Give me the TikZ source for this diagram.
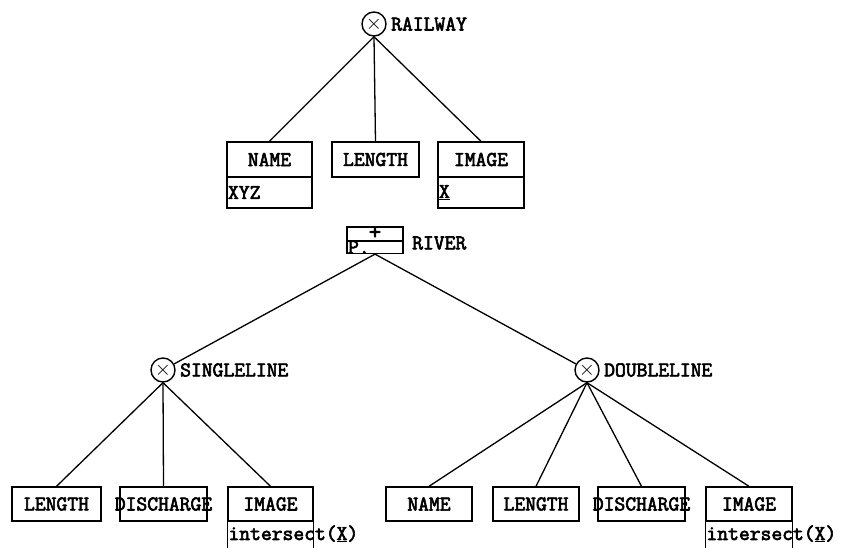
\documentclass[tikz,border=0pt]{standalone}
\usepackage{fontspec}
\setmonofont{Latin Modern Mono}[FakeBold=3]
\begin{document}
\begin{tikzpicture}[x=1pt,y=-1pt,
  every node/.style={font=\ttfamily\fontsize{21}{24}\selectfont, inner sep=0pt},
  link/.style={line width=1.3pt},
  field/.style={draw, line width=1.4pt, minimum height=35pt, anchor=center},
  valuecell/.style={draw, line width=1.4pt, minimum height=31pt, anchor=center},
  opnode/.style={circle, draw, line width=1.4pt, minimum size=24pt,
    font=\fontsize{21}{21}\selectfont},
  tag/.style={anchor=west}]
\useasboundingbox (0,0) rectangle (841,547);
\clip (0,0) rectangle (841,547);
\fill[white] (0,0) rectangle (841,547);

% RAILWAY: product of three fields
\node[opnode] (railway) at (374,24) {$\times$};
\node[tag] (railwaytag) at (391,24) {RAILWAY};
\node[field, minimum width=85pt] (rname) at (269.5,159.5) {NAME};
\node[valuecell, minimum width=85pt] (rnameval) at (269.5,192.5)
  {\makebox[83pt][l]{XYZ}};
\node[field, minimum width=87pt] (rlength) at (375.5,159.5) {LENGTH};
\node[field, minimum width=86pt] (rimage) at (481,159.5) {IMAGE};
\node[valuecell, minimum width=86pt] (rimageval) at (481,192.5)
  {\makebox[84pt][l]{\underline{X}}};
\draw[link] (railway.south) -- (rname.north);
\draw[link] (railway.south) -- (rlength.north);
\draw[link] (railway.south) -- (rimage.north);

% RIVER: sum of two kinds
\node[draw, line width=1.4pt, minimum width=56pt, minimum height=14pt] (river) at (375,234) {};
\node[draw, line width=1.4pt, minimum width=56pt, minimum height=12pt] (riverval) at (375,247)
  {\makebox[54pt][l]{\raisebox{-1pt}{P.}}};
\node (plus) at (375,233) {\fontsize{24}{24}\selectfont +};
\node[tag] (rivertag) at (412,243) {RIVER};

\node[opnode] (single) at (163,370) {$\times$};
\node[tag] (singletag) at (180,370) {SINGLELINE};
\node[opnode] (double) at (587,370) {$\times$};
\node[tag] (doubletag) at (604,370) {DOUBLELINE};
\draw[link] (riverval.south) -- (single);
\draw[link] (riverval.south) -- (double);

% SINGLELINE fields
\node[field, minimum width=89pt, minimum height=34pt] (slength) at (56.5,504) {LENGTH};
\node[field, minimum width=87pt, minimum height=34pt] (sdischarge) at (163.5,504)
  {\makebox[77pt][c]{DISCHARGE}};
\node[field, minimum width=85pt, minimum height=34pt] (simage) at (270.5,504) {IMAGE};
\draw[line width=1.4pt] (simage.south west) -- ++(0,30) coordinate (simageleft);
\draw[line width=1.4pt] (simage.south east) -- ++(0,30) coordinate (simageright);
\node[anchor=west] (simageval) at ([yshift=-12pt,xshift=1pt]simage.south west) {intersect(\underline{X})};
\draw[link] (single.south) -- (slength.north);
\draw[link] (single.south) -- (sdischarge.north);
\draw[link] (single.south) -- (simage.north);

% DOUBLELINE fields
\node[field, minimum width=86pt, minimum height=34pt] (dname) at (429,504) {NAME};
\node[field, minimum width=86pt, minimum height=34pt] (dlength) at (536,504) {LENGTH};
\node[field, minimum width=87pt, minimum height=34pt] (ddischarge) at (641.5,504)
  {\makebox[77pt][c]{DISCHARGE}};
\node[field, minimum width=86pt, minimum height=34pt] (dimage) at (749,504) {IMAGE};
\draw[line width=1.4pt] (dimage.south west) -- ++(0,30) coordinate (dimageleft);
\draw[line width=1.4pt] (dimage.south east) -- ++(0,30) coordinate (dimageright);
\node[anchor=west] (dimageval) at ([yshift=-12pt,xshift=1pt]dimage.south west) {intersect(\underline{X})};
\draw[link] (double.south) -- (dname.north);
\draw[link] (double.south) -- (dlength.north);
\draw[link] (double.south) -- (ddischarge.north);
\draw[link] (double.south) -- (dimage.north);
\end{tikzpicture}
\end{document}
